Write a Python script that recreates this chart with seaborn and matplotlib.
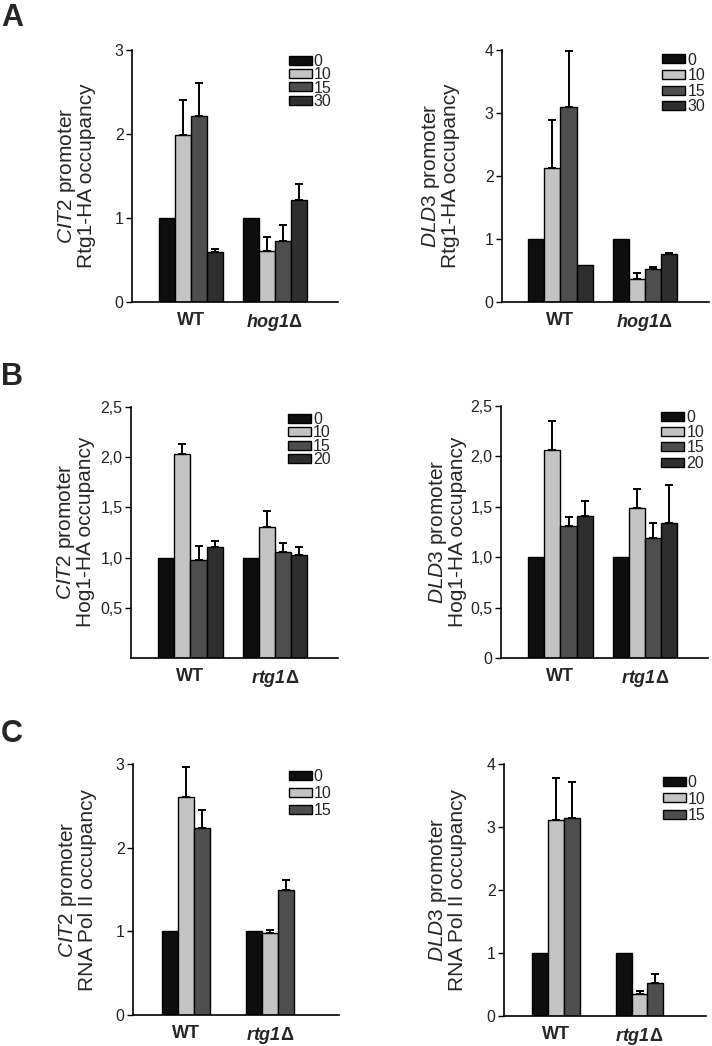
import pandas as pd
import matplotlib
matplotlib.use("Agg")
import matplotlib.pyplot as plt
from matplotlib.patches import Patch
import seaborn as sns

# ---------------------------------------------------------
# Data (fold occupancy, upper error = SD)
# ---------------------------------------------------------
times_4 = ["0", "10", "15", "30"]
times_4b = ["0", "10", "15", "20"]
times_3 = ["0", "10", "15"]

# A: Rtg1-HA occupancy, WT vs hog1
a_cit2_wt = [1.0, 1.99, 2.21, 0.59]
a_cit2_wt_sd = [0.0, 0.41, 0.40, 0.04]
a_cit2_mut = [1.0, 0.61, 0.73, 1.22]
a_cit2_mut_sd = [0.0, 0.16, 0.19, 0.18]

a_dld3_wt = [1.0, 2.13, 3.10, 0.59]
a_dld3_wt_sd = [0.0, 0.76, 0.89, 0.0]
a_dld3_mut = [1.0, 0.36, 0.52, 0.76]
a_dld3_mut_sd = [0.0, 0.10, 0.03, 0.02]

# B: Hog1-HA occupancy, WT vs rtg1
b_cit2_wt = [1.0, 2.03, 0.98, 1.11]
b_cit2_wt_sd = [0.0, 0.10, 0.14, 0.06]
b_cit2_mut = [1.0, 1.30, 1.06, 1.03]
b_cit2_mut_sd = [0.0, 0.16, 0.09, 0.08]

b_dld3_wt = [1.0, 2.06, 1.31, 1.41]
b_dld3_wt_sd = [0.0, 0.29, 0.09, 0.15]
b_dld3_mut = [1.0, 1.49, 1.19, 1.34]
b_dld3_mut_sd = [0.0, 0.19, 0.15, 0.38]

# C: RNA Pol II occupancy, WT vs rtg1
c_cit2_wt = [1.0, 2.61, 2.24]
c_cit2_wt_sd = [0.0, 0.36, 0.21]
c_cit2_mut = [1.0, 0.98, 1.50]
c_cit2_mut_sd = [0.0, 0.04, 0.11]

c_dld3_wt = [1.0, 3.11, 3.15]
c_dld3_wt_sd = [0.0, 0.66, 0.56]
c_dld3_mut = [1.0, 0.35, 0.53]
c_dld3_mut_sd = [0.0, 0.05, 0.14]

bar_colors = ["#0e0e0e", "#c4c4c4", "#4e4e4e", "#2e2e2e"]

# ---------------------------------------------------------
# Style
# ---------------------------------------------------------
sns.set_style("ticks")
plt.rcParams["font.family"] = ["Liberation Sans", "DejaVu Sans"]
plt.rcParams["mathtext.fontset"] = "custom"
plt.rcParams["mathtext.rm"] = "Liberation Sans"
plt.rcParams["mathtext.it"] = "Liberation Sans:italic"
plt.rcParams["mathtext.bf"] = "Liberation Sans:bold"
plt.rcParams["mathtext.bfit"] = "Liberation Sans:italic:bold"

W, H = 712, 1046
fig = plt.figure(figsize=(W / 100, H / 100), dpi=100)


def px_axes(left, right, top, bottom):
    return fig.add_axes([left / W, 1 - bottom / H, (right - left) / W, (bottom - top) / H])


def draw_panel(ax, times, wt, wt_sd, mut, mut_sd, mutant, ylim, yticks, yticklabels,
               xlim, width, leg_x, leg_y, leg_space):
    df = pd.DataFrame({
        "strain": ["WT"] * len(times) + [mutant] * len(times),
        "time": times + times,
        "value": wt + mut,
    })
    pal = dict(zip(times, bar_colors))
    sns.barplot(data=df, x="strain", y="value", hue="time", order=["WT", mutant],
                hue_order=times, palette=pal, width=width, errorbar=None,
                edgecolor="black", linewidth=1.0, saturation=1, legend=False, ax=ax)

    # upper-only error bars on top of each bar
    bar_groups = list(ax.containers)
    for i, cont in enumerate(bar_groups):
        sds = [wt_sd[i], mut_sd[i]]
        for bar, sd in zip(cont.patches, sds):
            if sd <= 0:
                continue
            x = bar.get_x() + bar.get_width() / 2
            ax.errorbar(x, bar.get_height(), yerr=[[0], [sd]], fmt="none",
                        ecolor="black", elinewidth=1.4, capsize=3, capthick=1.4,
                        zorder=5)

    ax.set_xlim(*xlim)
    ax.set_ylim(*ylim)
    ax.set_yticks(yticks)
    ax.set_yticklabels(yticklabels)
    ax.set_xlabel("")
    ax.set_ylabel("")
    ax.set_xticks([0, 1])
    gene = mutant.rstrip("Δ")
    ax.set_xticklabels(["WT", "$\\mathbfit{" + gene + "}$Δ"], fontsize=13,
                       fontweight="bold")
    ax.tick_params(axis="x", length=0, pad=7.5)
    ax.tick_params(axis="y", length=4, width=1, pad=2, labelsize=11.5,
                   labelcolor="#222222", color="black", direction="out")
    sns.despine(ax=ax)
    for side in ["left", "bottom"]:
        ax.spines[side].set_color("black")
        ax.spines[side].set_linewidth(1.2)

    handles = [Patch(facecolor=c, edgecolor="black", linewidth=1.0, label=t)
               for t, c in zip(times, bar_colors)]
    ax.legend(handles=handles, loc="upper left", bbox_to_anchor=(leg_x, leg_y),
              frameon=False, fontsize=11.5, handlelength=1.44, handleheight=0.5,
              handletextpad=0.12, labelspacing=leg_space, borderpad=0,
              borderaxespad=0)


# ---------------------------------------------------------
# Panel A
# ---------------------------------------------------------
ax = px_axes(132, 338, 50, 302)
draw_panel(ax, times_4, a_cit2_wt, a_cit2_wt_sd, a_cit2_mut, a_cit2_mut_sd,
           "hog1Δ", (0, 3), [0, 1, 2, 3], ["0", "1", "2", "3"],
           (-0.702, 1.75), 0.76, 0.76, 0.985, -0.1)
ax = px_axes(502, 709, 50, 302)
draw_panel(ax, times_4, a_dld3_wt, a_dld3_wt_sd, a_dld3_mut, a_dld3_mut_sd,
           "hog1Δ", (0, 4), [0, 1, 2, 3, 4], ["0", "1", "2", "3", "4"],
           (-0.692, 1.757), 0.76, 0.775, 0.99, 0.04)

# ---------------------------------------------------------
# Panel B
# ---------------------------------------------------------
ax = px_axes(131, 338, 407, 658)
draw_panel(ax, times_4b, b_cit2_wt, b_cit2_wt_sd, b_cit2_mut, b_cit2_mut_sd,
           "rtg1Δ", (0, 2.5), [0.5, 1.0, 1.5, 2.0, 2.5],
           ["0,5", "1,0", "1,5", "2,0", "2,5"],
           (-0.704, 1.746), 0.76, 0.76, 0.98, -0.1)
ax = px_axes(501, 708, 406, 658)
draw_panel(ax, times_4b, b_dld3_wt, b_dld3_wt_sd, b_dld3_mut, b_dld3_mut_sd,
           "rtg1Δ", (0, 2.5), [0, 0.5, 1.0, 1.5, 2.0, 2.5],
           ["0", "0,5", "1,0", "1,5", "2,0", "2,5"],
           (-0.704, 1.746), 0.76, 0.775, 0.985, 0.02)

# ---------------------------------------------------------
# Panel C
# ---------------------------------------------------------
ax = px_axes(133, 339, 764, 1015)
draw_panel(ax, times_3, c_cit2_wt, c_cit2_wt_sd, c_cit2_mut, c_cit2_mut_sd,
           "rtg1Δ", (0, 3), [0, 1, 2, 3], ["0", "1", "2", "3"],
           (-0.631, 1.821), 0.57, 0.755, 0.98, 0.12)
ax = px_axes(504, 706, 764, 1016)
draw_panel(ax, times_3, c_dld3_wt, c_dld3_wt_sd, c_dld3_mut, c_dld3_mut_sd,
           "rtg1Δ", (0, 4), [0, 1, 2, 3, 4], ["0", "1", "2", "3", "4"],
           (-0.623, 1.796), 0.57, 0.785, 0.955, 0.08)

# ---------------------------------------------------------
# y labels and panel letters
# ---------------------------------------------------------
ylabels = [
    (76, 176, "$\\it{CIT2}$ promoter\nRtg1-HA occupancy"),
    (440, 176, "$\\it{DLD3}$ promoter\nRtg1-HA occupancy"),
    (75, 532, "$\\it{CIT2}$ promoter\nHog1-HA occupancy"),
    (447, 532, "$\\it{DLD3}$ promoter\nHog1-HA occupancy"),
    (77, 890, "$\\it{CIT2}$ promoter\nRNA Pol II occupancy"),
    (447, 890, "$\\it{DLD3}$ promoter\nRNA Pol II occupancy"),
]
for x, y, txt in ylabels:
    fig.text(x / W, 1 - y / H, txt, rotation=90, ha="center", va="center",
             multialignment="center", fontsize=15, linespacing=0.95)

for letter, y in [("A", 3), ("B", 362), ("C", 719)]:
    fig.text(1 / W, 1 - y / H, letter, ha="left", va="top", fontsize=22,
             fontweight="bold")

fig.savefig("out.png", dpi=100)
